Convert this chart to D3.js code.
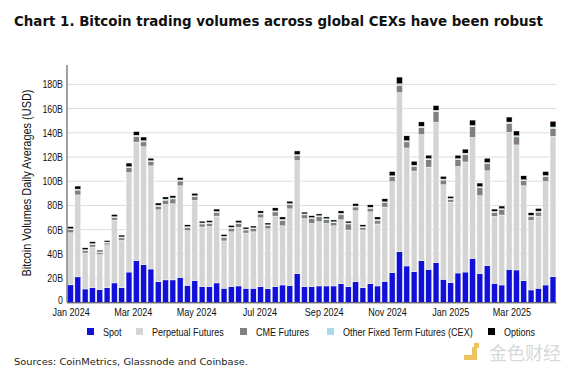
<!DOCTYPE html>
<html>
<head>
<meta charset="utf-8">
<script src="https://cdn.jsdelivr.net/npm/d3@7.9.0/dist/d3.min.js"></script>
<style>
  body { margin: 0; background: #fff; }
  svg { display: block; }
  .narrow { font-family: "Liberation Sans", Arial, sans-serif; }
</style>
</head>
<body>
<svg id="chart" width="573" height="376"></svg>
<script>
// weekly values, billions USD
const spot = [14.4, 21, 11, 12, 10.5, 12, 16, 12, 25, 34.5, 31, 27.5, 17, 18.5, 18.5, 20.5, 14, 18, 13, 13,
  16, 11.6, 13, 13.5, 11.6, 11.6, 13, 11.3, 13, 14.3, 13.8, 23.7, 13, 13, 13.5, 13.5, 13.5, 15.4, 13, 17,
  12, 15.4, 13.5, 17.3, 24.5, 41.8, 30, 25.3, 34.4, 27.2, 32.8, 19, 16.2, 24.2, 25, 36.3, 23.7, 30.3, 15.7, 14.3,
  27.2, 26.7, 17.9, 10.2, 11.6, 14.3, 21.2, 11];
const perp = [43.0, 67.7, 29.7, 33.7, 29.0, 35.5, 51.9, 39.2, 82.2, 97.8, 97.5, 85.2, 59.4, 62.4, 62.9, 75.7, 45.2, 66.2, 49.2, 49.7,
  55.2, 39.1, 45.2, 48.4, 45.6, 46.6, 56.9, 49.4, 58.2, 48.9, 63.4, 93.5, 56.2, 52.2, 53.2, 51.7, 49.7, 52.8, 46.7, 58.7,
  47.7, 59.3, 51.2, 61.4, 75.2, 131.5, 97.5, 83.1, 104.2, 84.5, 116.0, 78.1, 66.6, 88.0, 90.9, 100.0, 64.4, 78.3, 55.3, 57.8,
  113.3, 103.3, 78.4, 57.5, 59.6, 85.5, 116.0, 60.7];
const cme = [2.5, 4, 2, 2, 1.5, 1.5, 2, 2, 4, 4.5, 4, 3.5, 3, 3.5, 4, 4, 2.5, 3, 2.5, 2.5,
  3, 3, 3, 3, 2.5, 2.5, 3, 2.5, 3.5, 4.5, 3.5, 4, 3, 4, 4, 3, 2.5, 4.5, 5, 3,
  2, 3, 3, 3.5, 4, 6, 5, 4, 5.8, 6, 8.8, 3.9, 2.2, 5.5, 6.3, 8.8, 6.6, 5.8, 3.3, 4.4,
  7.4, 6.6, 4.1, 3.3, 3.3, 4.1, 6.6, 3];
const otherFixed = [0.8, 0.8, 0.8, 0.8, 0.8, 0.8, 0.8, 0.8, 0.8, 1.2, 1.0, 0.8, 0.8, 0.8, 0.8, 0.8, 0.8, 0.8, 0.8, 0.8,
  0.8, 0.8, 0.8, 0.8, 0.8, 0.8, 0.8, 0.8, 0.8, 0.8, 0.8, 0.8, 0.8, 0.8, 0.8, 0.8, 0.8, 0.8, 0.8, 0.8,
  0.8, 0.8, 0.8, 0.8, 0.8, 1.2, 1.0, 0.8, 1.0, 1.0, 1.0, 0.8, 0.8, 1.0, 1.0, 1.0, 0.8, 1.0, 0.8, 0.8,
  1.0, 1.0, 0.8, 0.8, 0.8, 0.8, 1.0, 0.8];
const options = [1.8, 2.5, 1.5, 1.5, 1.2, 1.2, 1.8, 1.5, 3, 3, 3, 2, 1.8, 1.8, 1.8, 2, 1.5, 2, 1.5, 1.5,
  2, 1.5, 1.5, 1.8, 1.5, 1.5, 1.8, 1.5, 2.5, 2, 2, 3, 1.5, 1.5, 1.5, 1.5, 1.5, 2, 1.5, 2,
  1.5, 2, 2, 2.5, 3.5, 5.5, 4, 3.3, 3.6, 2.8, 3.9, 2.2, 1.7, 2.8, 3.3, 4.4, 3, 3.6, 1.9, 2.2,
  4.1, 3.9, 3.3, 2.2, 2.2, 3.3, 4.7, 2];

// one bar per week, Jan 2024 - Apr 2025
const weeks = d3.timeMonday.range(new Date(2024, 0, 1), new Date(2025, 3, 8));

const seriesKeys = ['spot', 'perp', 'cme', 'other', 'options'];
const seriesNames = ['Spot', 'Perpetual Futures', 'CME Futures', 'Other Fixed Term Futures (CEX)', 'Options'];
const seriesColors = ['#1010d8', '#d4d4d4', '#808080', '#a6dbe8', '#000000'];

const yTicks = [0, 20, 40, 60, 80, 100, 120, 140, 160, 180];
const tickDates = [new Date(2024, 0, 1), new Date(2024, 2, 1), new Date(2024, 4, 1), new Date(2024, 6, 1),
  new Date(2024, 8, 1), new Date(2024, 10, 1), new Date(2025, 0, 1), new Date(2025, 2, 1)];
const tickLabels = ['Jan 2024', 'Mar 2024', 'May 2024', 'Jul 2024', 'Sep 2024', 'Nov 2024', 'Jan 2025', 'Mar 2025'];

const rows = weeks.map((w, i) => ({
  week: w, spot: spot[i], perp: perp[i], cme: cme[i], other: otherFixed[i], options: options[i]
}));

const svg = d3.select('#chart');
const plotLeft = 67, plotRight = 556.5, plotTop = 65, plotBottom = 302.3;

const x = d3.scaleBand().domain(weeks).range([plotLeft, plotRight]).paddingInner(0.2).paddingOuter(0.08);
const xTime = d3.scaleTime().domain([tickDates[0], tickDates[tickDates.length - 1]]).range([70.6, 511.4]);
const y = d3.scaleLinear().domain([0, 196]).range([plotBottom, plotTop]);
const color = d3.scaleOrdinal(seriesKeys, seriesColors);

// squeeze Liberation Sans into the condensed look of the original
function condense(sel, k) {
  sel.each(function () {
    const w = this.getComputedTextLength();
    d3.select(this).attr('textLength', w * k).attr('lengthAdjust', 'spacingAndGlyphs');
  });
}

// title
svg.append('text')
  .attr('x', 14).attr('y', 26)
  .attr('font-family', 'DejaVu Sans, Verdana, sans-serif')
  .attr('font-weight', 'bold').attr('font-size', 13.5)
  .attr('textLength', 529).attr('lengthAdjust', 'spacingAndGlyphs')
  .attr('fill', '#111')
  .text('Chart 1. Bitcoin trading volumes across global CEXs have been robust');

// gridlines
svg.append('g').selectAll('line')
  .data(yTicks.filter(d => d > 0))
  .join('line')
  .attr('x1', plotLeft).attr('x2', plotRight)
  .attr('y1', d => y(d)).attr('y2', d => y(d))
  .attr('stroke', '#dedede').attr('stroke-width', 1);

// bars
const stacked = d3.stack().keys(seriesKeys)(rows);
svg.append('g').selectAll('g')
  .data(stacked)
  .join('g')
  .attr('fill', d => color(d.key))
  .selectAll('rect')
  .data(d => d)
  .join('rect')
  .attr('x', d => x(d.data.week))
  .attr('width', x.bandwidth())
  .attr('y', d => y(d[1]))
  .attr('height', d => y(d[0]) - y(d[1]))
  .attr('stroke', '#fff').attr('stroke-width', 0.4);

// y axis
const yAxis = svg.append('g')
  .attr('transform', `translate(${plotLeft},0)`)
  .call(d3.axisLeft(y).tickValues(yTicks).tickSize(0).tickPadding(4)
    .tickFormat(d => d === 0 ? '0' : d + 'B'));
yAxis.select('.domain').remove();
yAxis.selectAll('text').attr('class', 'narrow').attr('font-size', 11).attr('fill', '#111')
  .call(condense, 0.8);
yAxis.selectAll('.tick').filter(d => d === 0).select('text').attr('dy', '0.1em');

svg.append('line')
  .attr('x1', plotLeft).attr('x2', plotLeft).attr('y1', plotTop).attr('y2', plotBottom)
  .attr('stroke', '#444').attr('stroke-width', 1);
svg.append('line')
  .attr('x1', plotLeft).attr('x2', plotRight).attr('y1', plotBottom + 0.5).attr('y2', plotBottom + 0.5)
  .attr('stroke', '#333').attr('stroke-width', 1);

// x axis labels
const xAxis = svg.append('g')
  .attr('transform', `translate(0,${plotBottom})`)
  .call(d3.axisBottom(xTime).tickValues(tickDates).tickSize(0).tickPadding(6)
    .tickFormat((d, i) => tickLabels[i]));
xAxis.select('.domain').remove();
xAxis.selectAll('text').attr('class', 'narrow').attr('font-size', 11).attr('fill', '#111')
  .call(condense, 0.82);

// y title
svg.append('text')
  .attr('class', 'narrow')
  .attr('transform', 'translate(31,183) rotate(-90)')
  .attr('text-anchor', 'middle')
  .attr('font-size', 12.5)
  .attr('textLength', 187).attr('lengthAdjust', 'spacingAndGlyphs')
  .attr('fill', '#111')
  .text('Bitcoin Volumes Daily Averages (USD)');

// legend
const legendX = [87, 136, 240, 327, 488];
const legend = svg.append('g').selectAll('g')
  .data(seriesKeys)
  .join('g')
  .attr('transform', (d, i) => `translate(${legendX[i]},332)`);
legend.append('rect')
  .attr('x', 0).attr('y', -4).attr('width', 7).attr('height', 7)
  .attr('fill', d => color(d));
legend.append('text')
  .attr('class', 'narrow')
  .attr('x', 16).attr('y', 4)
  .attr('font-size', 11).attr('fill', '#111')
  .text((d, i) => seriesNames[i])
  .call(condense, 0.82);

// source note
svg.append('text')
  .attr('x', 14).attr('y', 365)
  .attr('font-family', 'DejaVu Sans, Verdana, sans-serif')
  .attr('font-size', 9.5)
  .attr('textLength', 234).attr('lengthAdjust', 'spacingAndGlyphs')
  .attr('fill', '#222')
  .text('Sources: CoinMetrics, Glassnode and Coinbase.');

// watermark
const wm = svg.append('g').attr('opacity', 0.8);
wm.append('rect').attr('x', 464).attr('y', 347).attr('width', 13).attr('height', 13).attr('fill', '#e9b53a');
wm.append('rect').attr('x', 464).attr('y', 347).attr('width', 8).attr('height', 8).attr('fill', '#fff');
wm.append('rect').attr('x', 474).attr('y', 343).attr('width', 5).attr('height', 5).attr('fill', '#e9b53a');
wm.append('text')
  .attr('x', 489).attr('y', 360)
  .attr('font-family', 'Noto Sans CJK SC, sans-serif')
  .attr('font-size', 18)
  .attr('fill', '#cfcfcf')
  .text('金色财经');
</script>
</body>
</html>
